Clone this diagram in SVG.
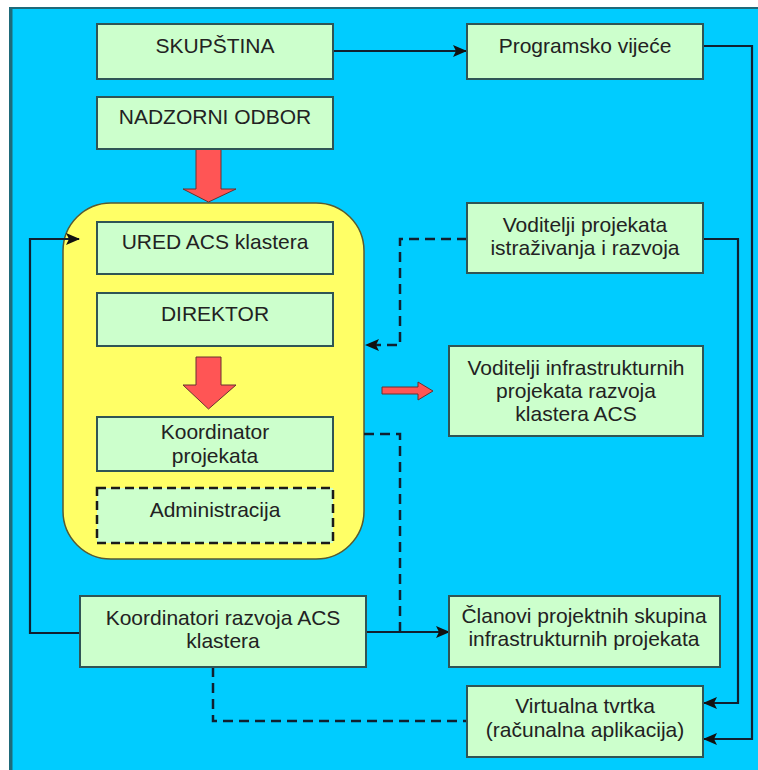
<svg xmlns="http://www.w3.org/2000/svg" width="758" height="770" viewBox="0 0 758 770">
<defs>
<marker id="ah" viewBox="0 0 14 12" refX="13" refY="6" markerWidth="14" markerHeight="12" markerUnits="userSpaceOnUse" orient="auto">
<path d="M0,0 L14,6 L0,12 L3,6 Z" fill="#111"/>
</marker>
<style>
.box{fill:#CCFFCC;stroke:#2F5555;stroke-width:2}
.dbox{fill:#CCFFCC;stroke:#1a1a1a;stroke-width:2.5;stroke-dasharray:9,5}
.t{font-family:"Liberation Sans",Arial,sans-serif;font-size:21px;fill:#222;text-anchor:middle}
.ln{fill:none;stroke:#102030;stroke-width:2.2}
.dl{fill:none;stroke:#102030;stroke-width:2.5;stroke-dasharray:10,6}
.red{fill:#FF5555;stroke:#6a3030;stroke-width:1}
</style>
</defs>
<rect x="0" y="0" width="758" height="770" fill="#ffffff"/>
<rect x="10" y="8" width="760" height="780" fill="#00CCFF" stroke="#1f6a7a" stroke-width="2"/>
<line x1="11" y1="9" x2="11" y2="770" stroke="#1f6a7a" stroke-width="3"/>

<g id="ured-container">
<rect x="63" y="203" width="301" height="356" rx="48" ry="48" fill="#FFFF66" stroke="#5a5a30" stroke-width="1.5"/>
</g>

<g id="connectors">
<path class="ln" d="M333,51 H466" marker-end="url(#ah)"/>
<path class="ln" d="M703,46 H752 V739 H704" marker-end="url(#ah)"/>
<path class="ln" d="M703,239 H738 V703 H704" marker-end="url(#ah)"/>
<path class="dl" d="M467,239 H400 V345 H366" marker-end="url(#ah)"/>
<path class="dl" d="M364,434 H400 V632"/>
<path class="ln" d="M80,633 H30 V239 H79" marker-end="url(#ah)"/>
<path class="ln" d="M366,632 H449" marker-end="url(#ah)"/>
<path class="dl" d="M213,667 V721 H467"/>
<path class="red" d="M196,149 H221 V189 H236 L208.5,202 L183,189 H196 Z"/>
<path class="red" d="M196,357 H221 V385 H236 L208.5,409 L183,385 H196 Z"/>
<path class="red" d="M382,387 H418 V382 L433,391 L418,400 V394 H382 Z"/>
</g>

<g id="skupstina">
<rect class="box" x="97" y="24" width="236" height="55"/>
<text class="t" x="215" y="53">SKUPŠTINA</text>
</g>
<g id="nadzorni-odbor">
<rect class="box" x="97" y="97" width="236" height="52"/>
<text class="t" x="215" y="124">NADZORNI ODBOR</text>
</g>
<g id="programsko-vijece">
<rect class="box" x="467" y="24" width="236" height="55"/>
<text class="t" x="585" y="53">Programsko vijeće</text>
</g>
<g id="ured">
<rect class="box" x="97" y="222" width="236" height="52"/>
<text class="t" x="215" y="249">URED ACS klastera</text>
</g>
<g id="direktor">
<rect class="box" x="97" y="293" width="236" height="53"/>
<text class="t" x="215" y="321">DIREKTOR</text>
</g>
<g id="koordinator-projekata">
<rect class="box" x="97" y="417" width="236" height="54"/>
<text class="t" x="215" y="439">Koordinator</text>
<text class="t" x="215" y="463">projekata</text>
</g>
<g id="administracija">
<rect class="dbox" x="97" y="488" width="236" height="55"/>
<text class="t" x="215" y="517">Administracija</text>
</g>
<g id="voditelji-ir">
<rect class="box" x="467" y="203" width="236" height="70"/>
<text class="t" x="585" y="232">Voditelji projekata</text>
<text class="t" x="585" y="255">istraživanja i razvoja</text>
</g>
<g id="voditelji-infra">
<rect class="box" x="449" y="346" width="254" height="90"/>
<text class="t" x="576" y="375">Voditelji infrastrukturnih</text>
<text class="t" x="576" y="398">projekata razvoja</text>
<text class="t" x="576" y="421">klastera ACS</text>
</g>
<g id="koordinatori-razvoja">
<rect class="box" x="80" y="596" width="286" height="71"/>
<text class="t" x="223" y="625">Koordinatori razvoja ACS</text>
<text class="t" x="223" y="648">klastera</text>
</g>
<g id="clanovi">
<rect class="box" x="449" y="596" width="271" height="71"/>
<text class="t" x="584" y="623">Članovi projektnih skupina</text>
<text class="t" x="584" y="646">infrastrukturnih projekata</text>
</g>
<g id="virtualna-tvrtka">
<rect class="box" x="467" y="686" width="236" height="71"/>
<text class="t" x="585" y="713">Virtualna tvrtka</text>
<text class="t" x="585" y="737">(računalna aplikacija)</text>
</g>
</svg>
